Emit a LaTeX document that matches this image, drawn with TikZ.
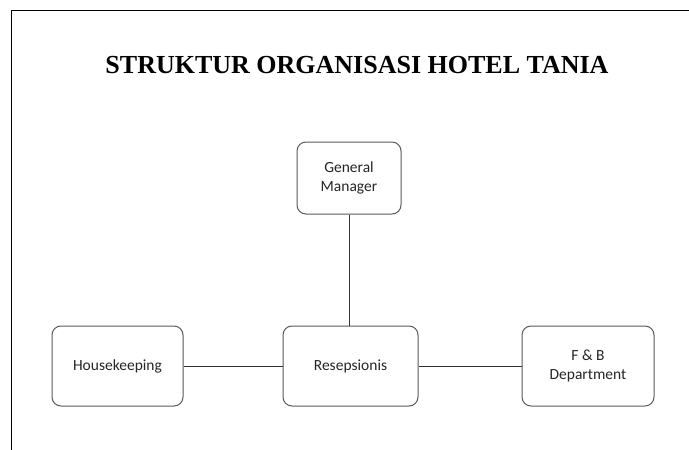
\documentclass[tikz,border=0pt]{standalone}
\usepackage{fontspec}
\setmainfont{Liberation Serif}
\newfontfamily\boxfont{Carlito}
\usepackage{xcolor}
\definecolor{boxborder}{HTML}{5A5A5A}
\definecolor{linkcolor}{HTML}{333333}
\definecolor{boxtext}{HTML}{262626}

\begin{document}
\begin{tikzpicture}[x=1pt, y=-1pt,
    orgbox/.style={draw=boxborder, line width=1pt, rounded corners=9pt, fill=white,
        inner sep=0pt, align=center, font=\boxfont\fontsize{15.5}{19}\selectfont, text=boxtext},
    orglink/.style={draw=linkcolor, line width=0.8pt}]
    \useasboundingbox (0,0) rectangle (689,450);

    % Page frame
    \draw[line width=1pt] (11,450) -- (11,10) -- (689,10);

    % Title
    \node[font=\bfseries\fontsize{26}{30}\selectfont] (title) at (357,65) {STRUKTUR ORGANISASI HOTEL TANIA};

    % Boxes
    \node[orgbox, minimum width=104pt, minimum height=72pt] (gm) at (349,178) {General\\Manager};
    \node[orgbox, minimum width=131pt, minimum height=80pt] (hk) at (117.5,366) {Housekeeping};
    \node[orgbox, minimum width=135pt, minimum height=80pt] (res) at (350.5,366) {Resepsionis};
    \node[orgbox, minimum width=132pt, minimum height=80pt] (fb) at (588,366) {F \& B\\Department};

    % Links
    \draw[orglink] (gm) -- (gm |- res.north);
    \draw[orglink] (hk) -- (res);
    \draw[orglink] (res) -- (fb);
\end{tikzpicture}
\end{document}
